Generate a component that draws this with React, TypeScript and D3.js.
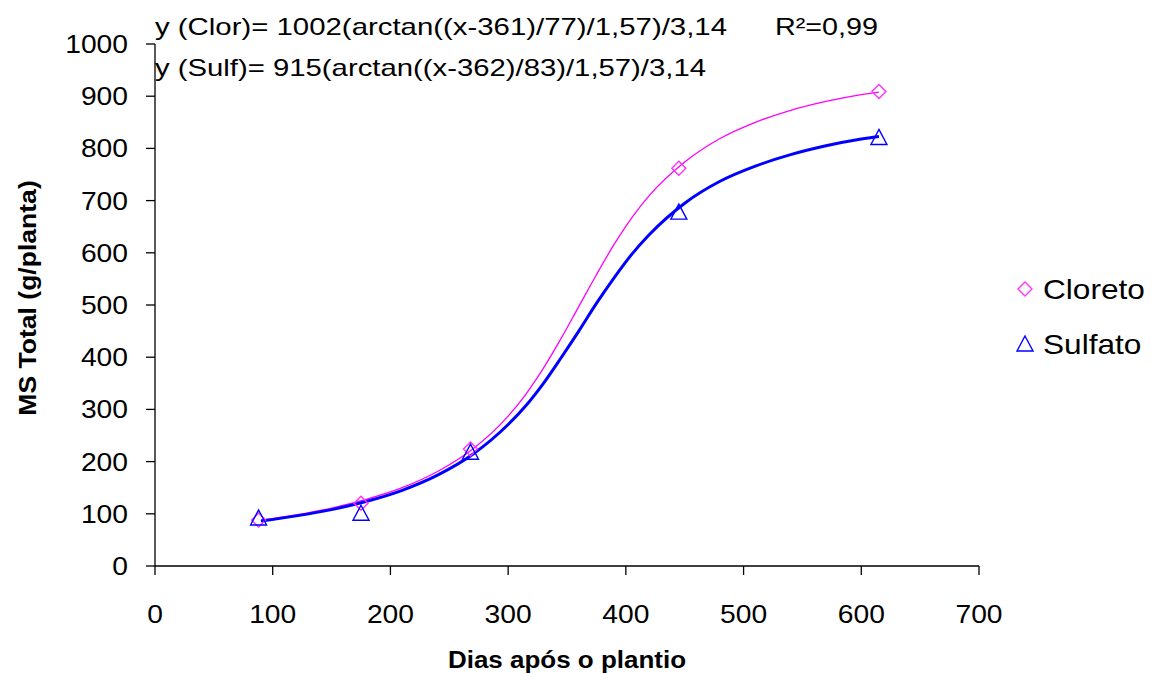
import React from 'react';
import * as d3 from 'd3';

// observed points
const days = [88, 175, 268, 445, 615];
const cloreto = [88, 120, 224, 762, 909];
const sulfato = [92, 101, 218, 678, 821];

// fitted curves
const curveDays = [90, 120, 150, 180, 210, 240, 270, 300, 315, 330, 345, 360, 375, 390, 405, 420, 450, 480, 510, 540, 570, 600, 615];
const cloretoCurve = [88, 98, 111, 128, 150, 181, 224, 287, 329, 379, 436, 497, 558, 616, 667, 710, 774, 819, 850, 873, 890, 903, 908];
const sulfatoCurve = [86, 96, 108, 124, 145, 174, 214, 271, 307, 350, 399, 450, 503, 552, 597, 635, 695, 737, 766, 788, 805, 818, 823];

const xTicks = [0, 100, 200, 300, 400, 500, 600, 700];
const yTicks = [0, 100, 200, 300, 400, 500, 600, 700, 800, 900, 1000];

const FONT = '"Liberation Sans", Arial, sans-serif';
const SX = 1.13; // the original text is a bit wide

const T = ({x, y, size, anchor = 'start', bold = false, rot = 0, children, ...rest}: any) => (
  <text
    transform={`translate(${x},${y}) rotate(${rot}) scale(${SX},1)`}
    fontSize={size}
    fontFamily={FONT}
    fontWeight={bold ? 'bold' : 'normal'}
    textAnchor={anchor}
    fill="#000"
    {...rest}
  >
    {children}
  </text>
);

export default function App() {
  const width = 1153, height = 673;
  const x = d3.scaleLinear().domain([0, 700]).range([155, 979]);
  const y = d3.scaleLinear().domain([0, 1000]).range([566, 44]);

  const line = d3.line<number>()
    .x((d, i) => x(curveDays[i]))
    .y(d => y(d))
    .curve(d3.curveMonotoneX);

  const diamond = (cx: number, cy: number, r = 7) =>
    `M${cx},${cy - r}L${cx + r},${cy}L${cx},${cy + r}L${cx - r},${cy}Z`;
  const triangle = (cx: number, cy: number, w = 8, h = 14) =>
    `M${cx},${cy - h / 2 - 1}L${cx + w},${cy + h / 2}L${cx - w},${cy + h / 2}Z`;

  return (
    <svg width={width} height={height} style={{position: 'absolute', left: 0, top: 0, background: '#fff'}}>
      <rect width={width} height={height} fill="#fff" />

      {/* axes */}
      <g stroke="#000" strokeWidth={1.3} fill="none">
        <line x1={x(0)} x2={x(0)} y1={y(1000)} y2={y(0)} />
        <line x1={x(0)} x2={x(700)} y1={y(0)} y2={y(0)} />
        {yTicks.map(t => (
          <line key={'yt' + t} x1={x(0) - 9} x2={x(0)} y1={y(t)} y2={y(t)} />
        ))}
        {xTicks.map(t => (
          <line key={'xt' + t} x1={x(t)} x2={x(t)} y1={y(0)} y2={y(0) + 9} />
        ))}
      </g>
      {yTicks.map(t => (
        <T key={'yl' + t} x={128} y={y(t) + 9} size={25} anchor="end">{t}</T>
      ))}
      {xTicks.map(t => (
        <T key={'xl' + t} x={x(t)} y={623} size={25} anchor="middle">{t}</T>
      ))}

      <T x={567} y={668} size={23} anchor="middle" bold>Dias após o plantio</T>
      <T x={36} y={298} size={23.5} anchor="middle" bold rot={-90}>MS Total (g/planta)</T>

      {/* curves */}
      <path d={line(cloretoCurve) || ''} fill="none" stroke="#FF00FF" strokeWidth={1.3} />
      <path d={line(sulfatoCurve) || ''} fill="none" stroke="#0000FF" strokeWidth={3} />

      {/* markers */}
      {days.map((d, i) => (
        <path key={'c' + i} d={diamond(x(d), y(cloreto[i]))} fill="none" stroke="#FF33FF" strokeWidth={1.4} />
      ))}
      {days.map((d, i) => (
        <path key={'s' + i} d={triangle(x(d), y(sulfato[i]))} fill="none" stroke="#0000FF" strokeWidth={1.4} />
      ))}

      {/* equations */}
      <text x={155} y={35} fontSize={24} fontFamily={FONT} textLength={572} lengthAdjust="spacingAndGlyphs">
        y (Clor)= 1002(arctan((x-361)/77)/1,57)/3,14
      </text>
      <text x={155} y={76} fontSize={24} fontFamily={FONT} textLength={551} lengthAdjust="spacingAndGlyphs">
        y (Sulf)= 915(arctan((x-362)/83)/1,57)/3,14
      </text>
      <text x={775} y={35} fontSize={24} fontFamily={FONT} textLength={103} lengthAdjust="spacingAndGlyphs">
        R²=0,99
      </text>

      {/* legend */}
      <path d={diamond(1025, 289)} fill="none" stroke="#FF33FF" strokeWidth={1.4} />
      <T x={1043} y={299} size={28}>Cloreto</T>
      <path d={triangle(1025, 344)} fill="none" stroke="#0000FF" strokeWidth={1.4} />
      <T x={1043} y={354} size={28}>Sulfato</T>
    </svg>
  );
}
